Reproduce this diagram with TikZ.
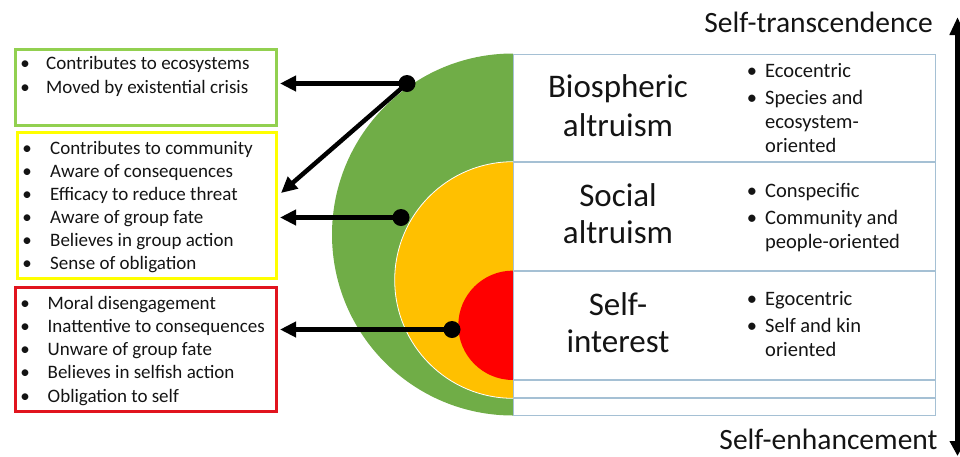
\documentclass[tikz,border=0pt]{standalone}
\usepackage{fontspec}
\setmainfont{Carlito}
\usetikzlibrary{arrows.meta}

\definecolor{boxgreen}{RGB}{146,208,80}
\definecolor{boxyellow}{RGB}{255,255,0}
\definecolor{boxred}{RGB}{225,20,30}
\definecolor{ringgreen}{RGB}{112,173,71}
\definecolor{ringyellow}{RGB}{255,192,0}
\definecolor{ringred}{RGB}{255,0,0}
\definecolor{gridline}{RGB}{165,192,212}
\definecolor{ink}{RGB}{20,20,20}

\begin{document}
\begin{tikzpicture}[x=1pt,y=-1pt,
  every node/.style={text=ink},
  listbox/.style={draw, line width=3pt, anchor=north west, inner sep=0pt},
  item/.style={anchor=base west, inner sep=0pt, font=\fontsize{19}{23}\selectfont},
  bul/.style={anchor=base, inner sep=0pt, font=\fontsize{19}{23}\selectfont},
  title/.style={anchor=base, inner sep=0pt, font=\fontsize{33}{39}\selectfont},
  ritem/.style={anchor=base west, inner sep=0pt, font=\fontsize{20.5}{24}\selectfont},
  rbul/.style={anchor=base, inner sep=0pt, font=\fontsize{20.5}{24}\selectfont},
  axislabel/.style={anchor=base, inner sep=0pt, font=\fontsize{29.5}{36}\selectfont},
  dot/.style={circle, fill=black, minimum size=17pt, inner sep=0pt},
  link/.style={line width=4.5pt, -{Triangle[length=16pt,width=15pt]}},
  gridrule/.style={draw=gridline, line width=1.2pt}
]
\useasboundingbox (0,0) rectangle (960,456);

% ---- list boxes on the left ----
\node[listbox, draw=boxgreen, minimum width=261pt, minimum height=76pt] (gbox) at (14,48) {};
\node[listbox, draw=boxyellow, minimum width=259pt, minimum height=146pt] (ybox) at (16,131) {};
\node[listbox, draw=boxred, minimum width=261pt, minimum height=124pt] (rbox) at (14,286) {};

\foreach \t [count=\i] in {Contributes to ecosystems, Moved by existential crisis} {
  \node[bul] (gb\i) at ({25},{69+24*(\i-1)}) {•};
  \node[item] (g\i) at ({46},{69+24*(\i-1)}) {\t};
}
\foreach \t [count=\i] in {Contributes to community, Aware of consequences,
    Efficacy to reduce threat, Aware of group fate, Believes in group action,
    Sense of obligation} {
  \node[bul] (yb\i) at ({27},{154+23.1*(\i-1)}) {•};
  \node[item] (y\i) at ({50},{154+23.1*(\i-1)}) {\t};
}
\foreach \t [count=\i] in {Moral disengagement, Inattentive to consequences,
    Unware of group fate, Believes in selfish action, Obligation to self} {
  \node[bul] (rb\i) at ({25},{309+23.3*(\i-1)}) {•};
  \node[item] (r\i) at ({47.5},{309+23.3*(\i-1)}) {\t};
}

% ---- nested half discs ----
\begin{scope}
  \clip (300,40) rectangle (513,430);
  \fill[ringgreen] (513,234.5) circle[radius=181pt];
  \filldraw[fill=ringyellow, draw=white, line width=0.8pt] (513,280) circle[radius=118.3pt];
  \fill[ringred] (513,325.3) circle[radius=54.7pt];
\end{scope}

% ---- table on the right ----
\node[gridrule, anchor=north west, inner sep=0pt, minimum width=422pt, minimum height=361pt] (tbl) at (513,54) {};
\foreach \yy in {162,271,380,398}
  \draw[gridrule] (513,\yy) -- (935,\yy);

\node[title] (t1a) at (618,97) {Biospheric};
\node[title] (t1b) at (618,136) {altruism};
\node[title] (t2a) at (618,206) {Social};
\node[title] (t2b) at (618,243) {altruism};
\node[title] (t3a) at (618,315) {Self-};
\node[title] (t3b) at (618,352) {interest};

\node[rbul] (s1b) at (752,77) {•};
\node[ritem] (s1) at (765,77) {Ecocentric};
\node[rbul] (s2b) at (752,104) {•};
\node[ritem] (s2) at (765,104) {Species and};
\node[ritem] (s2c) at (765,128) {ecosystem-};
\node[ritem] (s2d) at (765,152) {oriented};

\node[rbul] (s3b) at (752,197) {•};
\node[ritem] (s3) at (765,197) {Conspecific};
\node[rbul] (s4b) at (752,224) {•};
\node[ritem] (s4) at (765,224) {Community and};
\node[ritem] (s4c) at (765,248) {people-oriented};

\node[rbul] (s5b) at (752,305) {•};
\node[ritem] (s5) at (765,305) {Egocentric};
\node[rbul] (s6b) at (752,332) {•};
\node[ritem] (s6) at (765,332) {Self and kin};
\node[ritem] (s6c) at (765,356) {oriented};

% ---- dots and arrows to the lists ----
\node[dot] (d1) at (407,83.5) {};
\node[dot] (d2) at (401,217.5) {};
\node[dot] (d3) at (452,329.5) {};
\coordinate (e1) at (280,83.5);
\coordinate (e2) at (281,193);
\coordinate (e3) at (280,217.5);
\coordinate (e4) at (280,329.5);
\draw[link] (d1.center) -- (e1);
\draw[link] (d1.center) -- (e2);
\draw[link] (d2.center) -- (e3);
\draw[link] (d3.center) -- (e4);

% ---- value axis, running along the right edge ----
\node[axislabel] (up) at (818.5,32) {Self-transcendence};
\node[axislabel] (down) at (828.5,449) {Self-enhancement};
\coordinate (axtop) at (957.5,17);
\coordinate (axbot) at (957.5,456);
\draw[line width=5pt, {Triangle[length=15pt,width=15pt]}-{Triangle[length=18pt,width=15pt]}] (axbot) -- (axtop);
\end{tikzpicture}
\end{document}
